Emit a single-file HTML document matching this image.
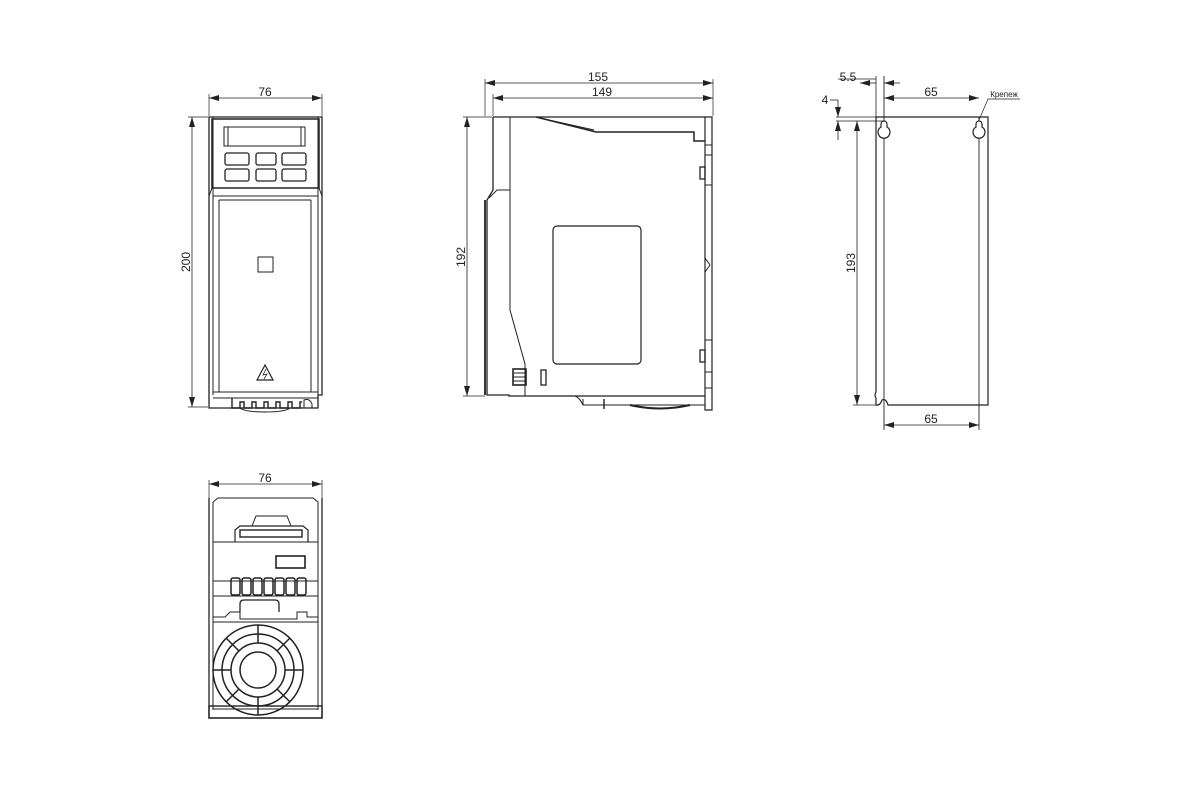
<!DOCTYPE html>
<html><head><meta charset="utf-8"><style>
html,body{margin:0;padding:0;background:#fff;width:1200px;height:800px;overflow:hidden}
svg text{font-family:"Liberation Sans",sans-serif;fill:#222}
</style></head><body>
<svg width="1200" height="800" viewBox="0 0 1200 800" xmlns="http://www.w3.org/2000/svg">
<defs>
<marker id="a" viewBox="0 0 10 6" refX="10" refY="3" markerWidth="10" markerHeight="6" orient="auto-start-reverse" markerUnits="userSpaceOnUse"><path d="M0,0 L10,3 L0,6z" fill="#222"/></marker>
</defs>
<g stroke="#222" fill="none" stroke-width="1">
<!-- FRONT VIEW dims -->
<line x1="209" y1="94" x2="209" y2="116" stroke-width="0.7"/>
<line x1="322" y1="94" x2="322" y2="116" stroke-width="0.7"/>
<line x1="209" y1="98" x2="322" y2="98" marker-start="url(#a)" marker-end="url(#a)" stroke-width="0.8"/>
<line x1="188" y1="117" x2="208" y2="117" stroke-width="0.7"/>
<line x1="188" y1="407" x2="208" y2="407" stroke-width="0.7"/>
<line x1="192" y1="117" x2="192" y2="407" marker-start="url(#a)" marker-end="url(#a)" stroke-width="0.8"/>
<!-- front body -->
<path d="M209,117 H322 V395 H318 V408 H209 V395 Z" stroke-width="1.3"/>
<line x1="213" y1="117" x2="213" y2="395"/>
<line x1="318" y1="117" x2="318" y2="395"/>
<rect x="212" y="119" width="107" height="69" stroke-width="1.5"/>
<rect x="224" y="127" width="81" height="19"/>
<line x1="228" y1="127" x2="228" y2="146"/><line x1="301" y1="127" x2="301" y2="146"/>
<rect x="225" y="153" width="24" height="12" rx="2" stroke-width="1.3"/>
<rect x="256" y="153" width="20" height="12" rx="2" stroke-width="1.3"/>
<rect x="282" y="153" width="24" height="12" rx="2" stroke-width="1.3"/>
<rect x="225" y="169" width="24" height="12" rx="2" stroke-width="1.3"/>
<rect x="256" y="169" width="20" height="12" rx="2" stroke-width="1.3"/>
<rect x="282" y="169" width="24" height="12" rx="2" stroke-width="1.3"/>
<path d="M212,188 L209,196 M319,188 L322,196"/>
<line x1="213" y1="196" x2="318" y2="196"/>
<line x1="219" y1="200" x2="311" y2="200"/>
<line x1="219" y1="200" x2="219" y2="392"/>
<line x1="311" y1="200" x2="311" y2="392"/>
<line x1="213" y1="392" x2="318" y2="392"/>
<rect x="258" y="257" width="15" height="15"/>
<path d="M265,365 L273,380 L257,380 Z" stroke-width="1.2"/>
<path d="M266,369 L263,375 L267,374 L264,379" stroke-width="0.8"/>
<line x1="213" y1="398" x2="318" y2="398"/>
<path d="M232,398 V408 H240 V402 H244 V408 H252 V402 H256 V408 H264 V402 H268 V408 H276 V402 H280 V408 H288 V402 H292 V408 H300 V402 H302" stroke-width="1.4"/>
<path d="M240,408 Q245,412 265,412 Q285,412 290,408"/>
<path d="M304,408 V400 Q310,398 312,404 V408"/>
<!-- SIDE VIEW dims -->
<line x1="485" y1="79" x2="485" y2="116" stroke-width="0.7"/>
<line x1="713" y1="79" x2="713" y2="116" stroke-width="0.7"/>
<line x1="493" y1="94" x2="493" y2="116" stroke-width="0.7"/>
<line x1="485" y1="83" x2="713" y2="83" marker-start="url(#a)" marker-end="url(#a)" stroke-width="0.8"/>
<line x1="493" y1="98" x2="713" y2="98" marker-start="url(#a)" marker-end="url(#a)" stroke-width="0.8"/>
<line x1="463" y1="117" x2="492" y2="117" stroke-width="0.7"/>
<line x1="463" y1="396" x2="485" y2="396" stroke-width="0.7"/>
<line x1="467" y1="117" x2="467" y2="396" marker-start="url(#a)" marker-end="url(#a)" stroke-width="0.8"/>
<!-- side body -->
<path d="M493,117 H705 M493,117 V190 L487,200 V395 H509 V396 H705" stroke-width="1.3"/>
<line x1="485" y1="200" x2="485" y2="395" stroke-width="1.8"/>
<path d="M510,117 V190 H497 L489,198" />
<path d="M510,190 V310 L525,364 V396"/>
<path d="M536,117 L596,132 H694 V141 H705" stroke-width="1.5"/>
<path d="M540,118 L594,130"/>
<path d="M705,117 V410 H712 V117 Z" stroke-width="1.2"/>
<line x1="705" y1="145" x2="712" y2="145"/><line x1="705" y1="155" x2="712" y2="155"/>
<line x1="705" y1="185" x2="712" y2="185"/><line x1="705" y1="258" x2="710" y2="265"/><line x1="705" y1="272" x2="710" y2="265"/>
<line x1="705" y1="340" x2="712" y2="340"/><line x1="705" y1="372" x2="712" y2="372"/><line x1="705" y1="388" x2="712" y2="388"/>
<rect x="700" y="167" width="5" height="12" stroke-width="1.3"/>
<rect x="700" y="350" width="5" height="12" stroke-width="1.3"/>
<rect x="553" y="226" width="88" height="138" rx="4" stroke-width="1.2"/>
<rect x="513" y="369" width="13" height="16" stroke-width="1.6"/>
<line x1="513" y1="373" x2="526" y2="373"/><line x1="513" y1="377" x2="526" y2="377"/><line x1="513" y1="381" x2="526" y2="381"/>
<rect x="541" y="370" width="5" height="15" stroke-width="1.3"/>
<path d="M575,396 Q580,398 583,405 H705 M583,405 V399" />
<path d="M604,399 V409" stroke-width="1.4"/>
<path d="M630,405 Q660,412 690,405" stroke-width="2"/>
<!-- REAR VIEW -->
<path d="M876,117 H988 V405 H888 Q886,398 882,400 Q880,406 876,405 V398 Q874,396 876,392 Z" stroke-width="1.2"/>
<line x1="979" y1="117" x2="979" y2="430" stroke-width="0.9"/>
<line x1="884" y1="76" x2="884" y2="430" stroke-width="0.9"/>
<path d="M884,121 a3,3 0 0,1 3,3 v3 a6,6 0 1,1 -6,0 v-3 a3,3 0 0,1 3,-3z" fill="#fff" stroke-width="1.2"/>
<path d="M979,121 a3,3 0 0,1 3,3 v3 a6,6 0 1,1 -6,0 v-3 a3,3 0 0,1 3,-3z" fill="#fff" stroke-width="1.2"/>
<line x1="876" y1="76" x2="876" y2="117" stroke-width="0.8"/>
<line x1="838" y1="79" x2="876" y2="79" stroke-width="0.8"/>
<line x1="876" y1="83" x2="860" y2="83" marker-end="url(#a)" stroke-width="0.8"/>
<line x1="884" y1="83" x2="900" y2="83" marker-start="url(#a)" stroke-width="0.8"/>
<line x1="884" y1="98" x2="979" y2="98" marker-start="url(#a)" marker-end="url(#a)" stroke-width="0.8"/>
<line x1="836" y1="117" x2="876" y2="117" stroke-width="0.7"/>
<line x1="836" y1="121" x2="884" y2="121" stroke-width="0.7"/>
<line x1="838" y1="100" x2="838" y2="117" marker-end="url(#a)" stroke-width="0.8"/>
<line x1="838" y1="140" x2="838" y2="121" marker-end="url(#a)" stroke-width="0.8"/>
<path d="M830,100 H838" stroke-width="0.8"/>
<line x1="857" y1="121" x2="857" y2="405" marker-start="url(#a)" marker-end="url(#a)" stroke-width="0.8"/>
<line x1="853" y1="405" x2="878" y2="405" stroke-width="0.7"/>
<line x1="884" y1="425" x2="979" y2="425" marker-start="url(#a)" marker-end="url(#a)" stroke-width="0.8"/>
<path d="M979,120 L988,99 H1020" stroke-width="0.7"/>
<!-- BOTTOM VIEW -->
<line x1="209" y1="480" x2="209" y2="498" stroke-width="0.7"/>
<line x1="322" y1="480" x2="322" y2="498" stroke-width="0.7"/>
<line x1="209" y1="484" x2="322" y2="484" marker-start="url(#a)" marker-end="url(#a)" stroke-width="0.8"/>
<path d="M209,498 V718 H322 V498" stroke-width="1.3"/>
<path d="M213,502 L218,498 H313 L318,502 V710 M213,502 V710" />
<line x1="213" y1="542" x2="318" y2="542"/>
<line x1="213" y1="581" x2="318" y2="581"/>
<line x1="213" y1="596" x2="318" y2="596"/>
<path d="M235,542 V530 L240,526 H303 L308,530 V542" stroke-width="1.2"/>
<path d="M252,526 L256,516 H287 L291,526"/>
<rect x="240" y="530" width="62" height="7" stroke-width="1.4"/>
<rect x="276" y="556" width="29" height="12" stroke-width="1.6"/>
<g stroke-width="1.5">
<rect x="231" y="578" width="9" height="17" rx="2"/><rect x="242" y="578" width="9" height="17" rx="2"/><rect x="253" y="578" width="9" height="17" rx="2"/><rect x="264" y="578" width="9" height="17" rx="2"/><rect x="275" y="578" width="9" height="17" rx="2"/><rect x="286" y="578" width="9" height="17" rx="2"/><rect x="297" y="578" width="9" height="17" rx="2"/>
</g>
<path d="M213,617 H225 L230,612 H240 V619 H297 V612 H307 V617 H318" />
<path d="M240,612 V604 Q240,600 244,600 H275 Q279,600 279,604 V612" stroke-width="1.3"/>
<line x1="213" y1="622" x2="318" y2="622"/>
<circle cx="258" cy="670" r="45" stroke-width="1.5"/>
<circle cx="258" cy="670" r="36" stroke-width="1.5"/>
<circle cx="258" cy="670" r="27" stroke-width="1.5"/>
<circle cx="258" cy="670" r="18" stroke-width="1.5"/>
<g stroke-width="1.5">
<line x1="258" y1="625" x2="258" y2="643"/><line x1="258" y1="697" x2="258" y2="715"/>
<line x1="213" y1="670" x2="231" y2="670"/><line x1="285" y1="670" x2="303" y2="670"/>
<line x1="226" y1="638" x2="239" y2="651"/><line x1="277" y1="689" x2="290" y2="702"/>
<line x1="290" y1="638" x2="277" y2="651"/><line x1="239" y1="689" x2="226" y2="702"/>
</g>
<rect x="209" y="706" width="113" height="12" stroke-width="1.4"/>
<line x1="213" y1="709" x2="318" y2="709"/>
</g>
<g font-size="12" text-anchor="middle">
<text x="265" y="96">76</text>
<text x="598" y="81">155</text>
<text x="602" y="96">149</text>
<text x="931" y="96">65</text>
<text x="931" y="423">65</text>
<text x="848" y="81">5.5</text>
<text x="825" y="104">4</text>
<text x="265" y="482">76</text>
<text transform="translate(190,262) rotate(-90)">200</text>
<text transform="translate(465,257) rotate(-90)">192</text>
<text transform="translate(855,263) rotate(-90)">193</text>
<text x="1004" y="97" font-size="8">Крепеж</text>
</g>
</svg>
</body></html>
